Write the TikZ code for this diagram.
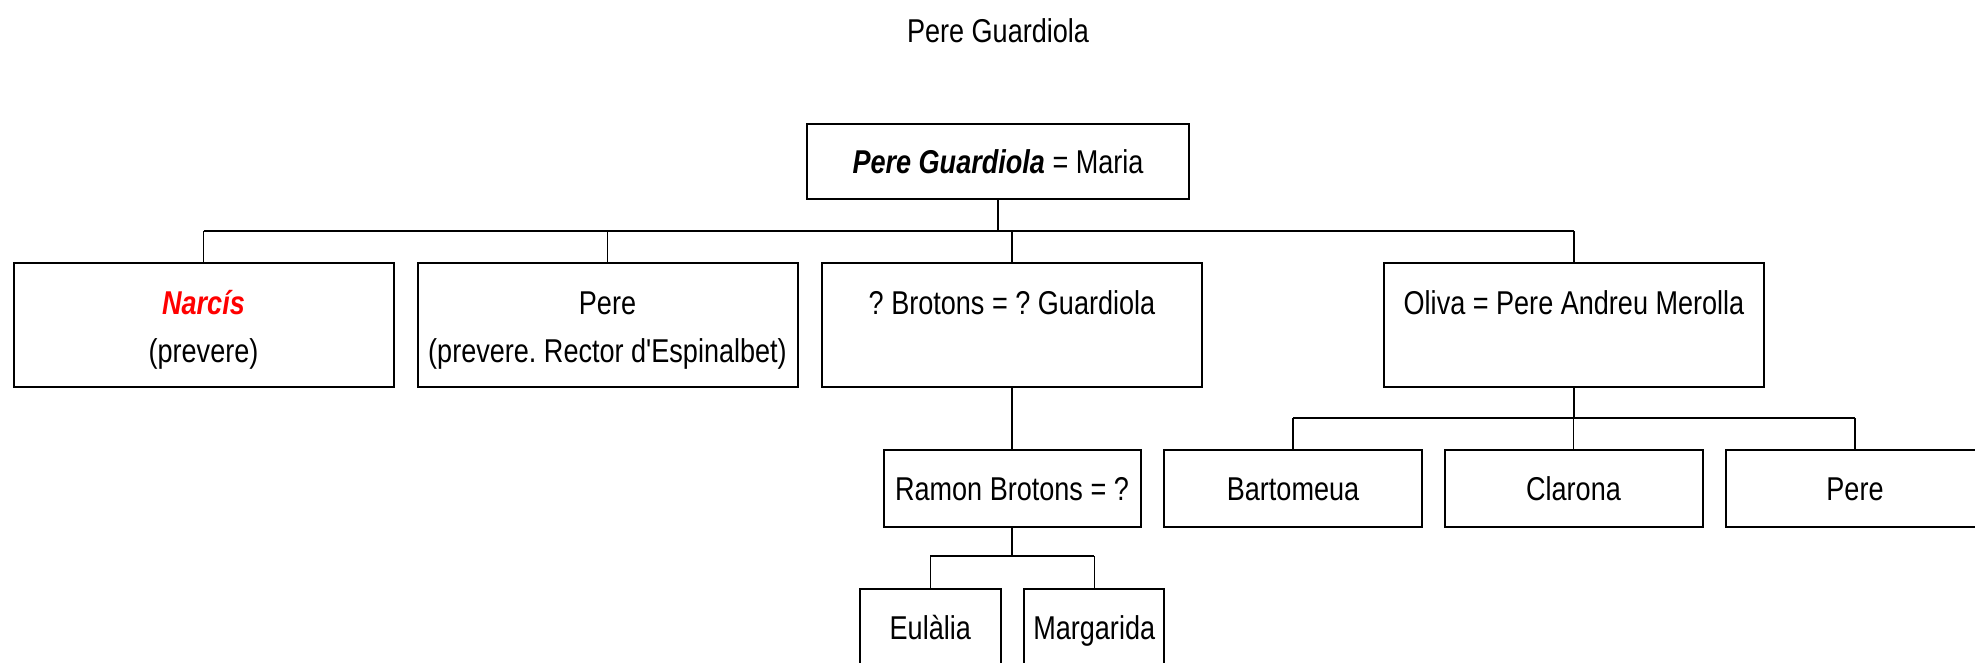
\documentclass[tikz,border=0pt]{standalone}
\usepackage{fontspec}
\setmainfont{Liberation Sans}[FakeStretch=0.82, Ligatures=TeXOff]
\frenchspacing
\begin{document}
\begin{tikzpicture}[x=1pt,y=-1pt,
  box/.style={draw, line width=2pt, inner sep=0pt, minimum width=380pt, minimum height=124pt},
  sbox/.style={draw, line width=2pt, inner sep=0pt, minimum height=77pt},
  txt/.style={inner sep=0pt, anchor=base, font=\fontsize{33}{48}\selectfont},
  stub/.style={line width=1.3pt},
  bar/.style={line width=2pt}]
\useasboundingbox (0,0) rectangle (1975,663);
\clip (0,0) rectangle (1975,663);
\fill[white] (0,0) rectangle (1975,663);
% title
\node[txt] (title) at (998,43) {Pere Guardiola};
% top couple
\node[sbox, minimum width=382pt, minimum height=75pt] (top) at (998,161.5) {};
\node[txt] (ttop) at (998,174) {\textbf{\textit{Pere Guardiola}} = Maria};
% row 1
\node[box] (narcis) at (203.5,325) {};
\node[box] (pere) at (607.5,325) {};
\node[box] (brotons) at (1012,325) {};
\node[box] (oliva) at (1574,325) {};
\node[txt] (tnarcis1) at (203.5,314) {\color{red}\textbf{\textit{Narcís}}};
\node[txt] (tnarcis2) at (203.5,362) {(prevere)};
\node[txt] (tpere1) at (607.5,314) {Pere};
\node[txt] (tpere2) at (607.5,362) {(prevere. Rector d'Espinalbet)};
\node[txt] (tbrotons) at (1012,314) {? Brotons = ? Guardiola};
\node[txt] (toliva) at (1574,314) {Oliva = Pere Andreu Merolla};
% row 2
\node[sbox, minimum width=257pt] (ramon) at (1012,488.5) {};
\node[sbox, minimum width=258pt] (barto) at (1293,488.5) {};
\node[sbox, minimum width=258pt] (clarona) at (1573.5,488.5) {};
\node[sbox, minimum width=258pt] (pere2) at (1855,488.5) {};
\node[txt] (tramon) at (1012,500) {Ramon Brotons = ?};
\node[txt] (tbarto) at (1293,500) {Bartomeua};
\node[txt] (tclarona) at (1573.5,500) {Clarona};
\node[txt] (tpere2) at (1855,500) {Pere};
% row 3
\node[sbox, minimum width=141pt] (eulalia) at (930.3,627.5) {};
\node[sbox, minimum width=140pt] (margarida) at (1094.2,627.5) {};
\node[txt] (teulalia) at (930.3,639) {Eulàlia};
\node[txt] (tmargarida) at (1094.2,639) {Margarida};
% connectors
\coordinate (j1) at (998,231);
\coordinate (j2) at (1574,418);
\coordinate (j3) at (1012,556);
\draw[stub] (top.south) -- (j1);
\draw[bar] (narcis.north |- j1) -- (oliva.north |- j1);
\foreach \n in {narcis,pere,brotons,oliva} \draw[stub] (\n.north |- j1) -- (\n.north);
\draw[stub] (brotons.south) -- (ramon.north);
\draw[stub] (oliva.south) -- (j2);
\draw[bar] (barto.north |- j2) -- (pere2.north |- j2);
\foreach \n in {barto,clarona,pere2} \draw[stub] (\n.north |- j2) -- (\n.north);
\draw[stub] (ramon.south) -- (j3);
\draw[bar] (eulalia.north |- j3) -- (margarida.north |- j3);
\foreach \n in {eulalia,margarida} \draw[stub] (\n.north |- j3) -- (\n.north);
\end{tikzpicture}
\end{document}
